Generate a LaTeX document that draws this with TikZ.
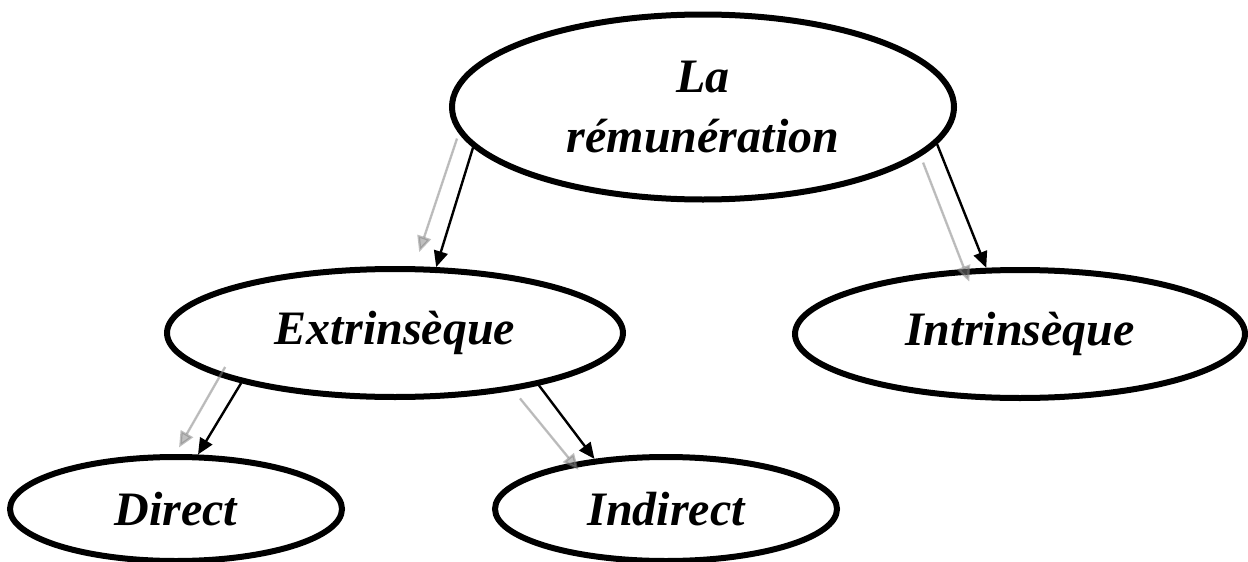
\documentclass[tikz,border=0pt]{standalone}
\usepackage{fontspec}
\setmainfont{Liberation Serif}
\usetikzlibrary{arrows.meta,shapes.geometric}
\begin{document}
\begin{tikzpicture}[x=0.5pt,y=-0.5pt,
  oval/.style={ellipse, draw=black, line width=3pt, inner sep=0pt, align=center,
    font=\bfseries\itshape\fontsize{24}{30}\selectfont},
  link/.style={-{Triangle[length=8pt,width=7pt]}, line width=1.2pt, draw=black},
  echo/.style={-{Triangle[length=8pt,width=7pt]}, line width=1.2pt, draw=gray, fill=gray, opacity=0.5}]
\useasboundingbox (0,0) rectangle (1248,562);

% the five categories
\node[oval, minimum width=251pt, minimum height=92.5pt] (top) at (703,107)
  {\raisebox{-2.5pt}{La}\\\raisebox{-2.5pt}{rémunération}};
\node[oval, minimum width=228pt, minimum height=64pt] (ext) at (395,333) {Extrinsèque};
\node[oval, minimum width=225pt, minimum height=64pt] (int) at (1020,334) {Intrinsèque};
\node[oval, minimum width=166pt, minimum height=52pt] (dir) at (176,509) {Direct};
\node[oval, minimum width=171pt, minimum height=52pt] (ind) at (666,509) {Indirect};

% black arrows with their pale doubles
\draw[link] (top.190) -- (ext.58);
\draw[echo] ([shift={(-16,-9)}]top.190) -- ([shift={(-17,-15)}]ext.58);

\draw[link] (top.351) -- (int.117.5);
\draw[echo] ([shift={(-14,18.5)}]top.351) -- ([shift={(-17,14)}]int.117.5);

\draw[link] (ext.198) -- (dir.68);
\draw[echo] ([shift={(-16,-16)}]ext.198) -- ([shift={(-19,-7)}]dir.68);

\draw[link] (ext.340) -- (ind.145);
\draw[echo] ([shift={(-19,13)}]ext.340) -- ([shift={(-16,11)}]ind.145);
\end{tikzpicture}
\end{document}
